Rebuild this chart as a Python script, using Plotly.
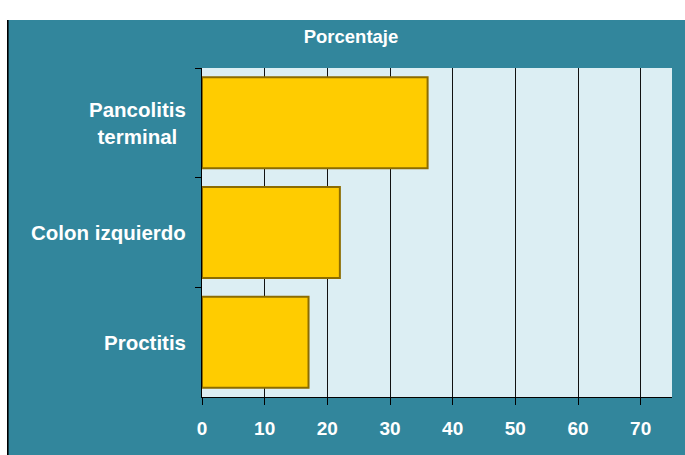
import plotly.graph_objects as go

categories = ["Pancolitis<br>terminal", "Colon izquierdo", "Proctitis"]
values = [36, 22, 17]
x_ticks = [0, 10, 20, 30, 40, 50, 60, 70]
title_text = "Porcentaje"

TEAL = "#32869C"
PLOT_BG = "#DCEEF3"
FONT = "Arial, Liberation Sans, sans-serif"

W, H = 685, 455
L, R, T, B = 202, 13, 68, 58
pw, ph = W - L - R, H - T - B

fig = go.Figure()
fig.add_trace(go.Bar(
    x=values, y=categories, orientation="h",
    marker=dict(color="#FFCC00", line=dict(color="#8C6C00", width=2)),
    hoverinfo="x+y",
))

annotations = []
for c in categories:
    annotations.append(dict(
        x=0, xref="paper", y=c, yref="y", text=c, showarrow=False,
        xanchor="right", yanchor="middle", align="center", xshift=-14,
        font=dict(family=FONT, size=20.5, color="white", weight="bold"),
    ))

shapes = [
    dict(type="rect", xref="paper", yref="paper", x0=-0.6, x1=1.2,
         y0=(H - T - 10) / ph, y1=1.4, fillcolor="white", line_width=0, layer="below"),
    dict(type="rect", xref="paper", yref="paper", x0=-0.6, x1=(7 - L) / pw,
         y0=-0.4, y1=1.4, fillcolor="white", line_width=0, layer="below"),
    dict(type="line", xref="paper", yref="paper", x0=(7.8 - L) / pw, x1=(7.8 - L) / pw,
         y0=-0.4, y1=(H - T - 10) / ph, line=dict(color="black", width=1.6), layer="below"),
]

fig.update_layout(
    width=W, height=H,
    margin=dict(l=L, r=R, t=T, b=B),
    paper_bgcolor=TEAL, plot_bgcolor=PLOT_BG,
    showlegend=False, bargap=0.17,
    title=dict(text=title_text, x=351 / W, xanchor="center", y=(H - 37) / H,
               yanchor="middle", yref="container",
               font=dict(family=FONT, size=18.5, color="white", weight="bold")),
    xaxis=dict(range=[0, 75], tickvals=x_ticks, showgrid=True, gridcolor="#111111",
               gridwidth=1, zeroline=False, showline=True, linecolor="black", linewidth=1,
               ticks="outside", ticklen=7, tickcolor="black", tickwidth=1,
               ticklabelstandoff=7,
               tickfont=dict(family=FONT, size=19, color="white", weight="bold"),
               fixedrange=True),
    yaxis=dict(autorange="reversed", showticklabels=False, showline=True,
               linecolor="black", linewidth=1, ticks="outside", ticklen=6,
               tickcolor="black", tickson="boundaries", showgrid=False,
               zeroline=False, fixedrange=True),
    annotations=annotations,
    shapes=shapes,
)

fig.write_html("out.html")
